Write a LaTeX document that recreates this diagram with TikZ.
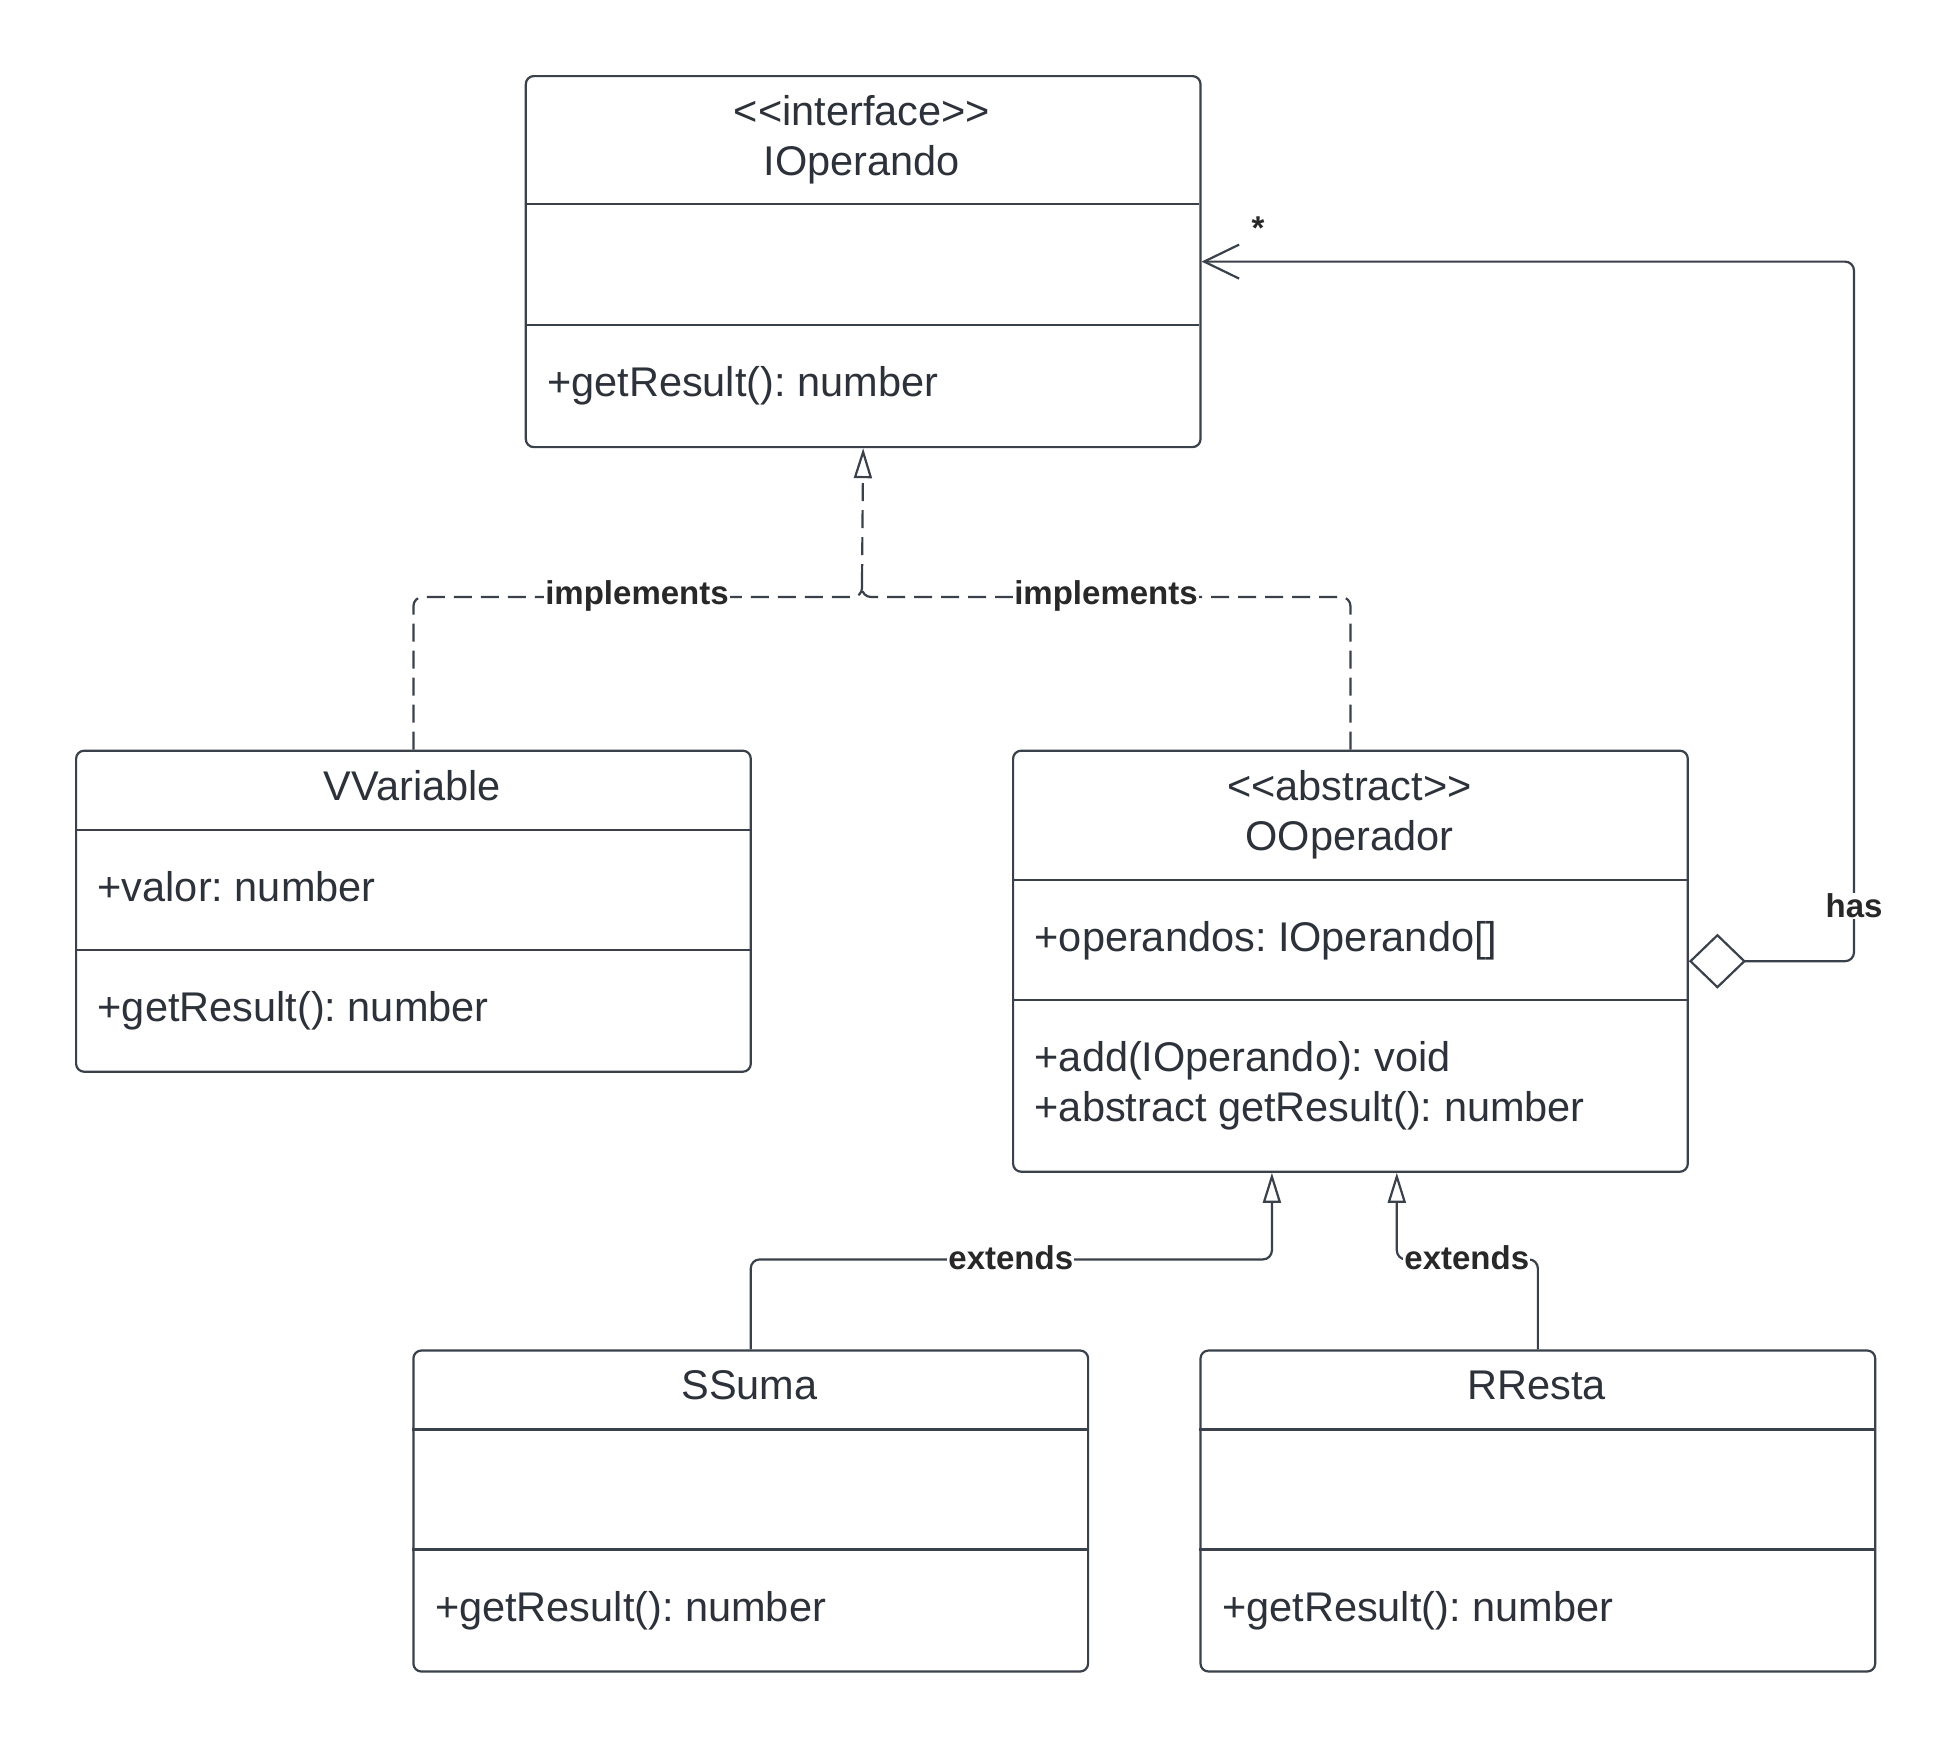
\documentclass[tikz,border=0pt]{standalone}
\usepackage{fontspec}
\setmainfont{Liberation Sans}
\frenchspacing
\usetikzlibrary{arrows.meta}
\definecolor{ln}{RGB}{58,65,74}
\definecolor{tx}{RGB}{45,50,58}
\definecolor{lb}{RGB}{40,40,40}

\begin{document}
\begin{tikzpicture}[x=1pt,y=-1pt,
  cls/.style={draw=ln, line width=2.2pt, rounded corners=8pt, minimum width=674.7pt,
              inner sep=0pt, anchor=north west},
  sep/.style={draw=ln, line width=2.2pt},
  ttl/.style={font=\fontsize{41.5}{50}\selectfont, text=tx, inner sep=0pt, anchor=base},
  mem/.style={font=\fontsize{41.5}{50}\selectfont, text=tx, inner sep=0pt, anchor=base west},
  lbl/.style={font=\bfseries\fontsize{33}{40}\selectfont, text=lb, fill=white, inner sep=1pt},
  conn/.style={draw=ln, line width=2.2pt, rounded corners=9pt},
  real/.style={conn, dash pattern=on 18pt off 9pt},
  hollow/.style={-{Triangle[open, length=30pt, width=18pt, fill=white]}},
]
\useasboundingbox (0,0) rectangle (1959,1746);
\fill[white] (0,0) rectangle (1959,1746);

% ---------- IOperando ----------
\node[cls, minimum height=371pt] (iop) at (524.7,75) {};
\draw[sep] (524.7,204) -- (1199.4,204);
\draw[sep] (524.7,325) -- (1199.4,325);
\node[ttl] (iopS) at (862,125) {<{}<interface>{}>};
\node[ttl] (iopN) at (862,175) {IOperando};
\node[mem] (iopM) at (547,396) {+getResult(): number};

% ---------- VVariable ----------
\node[cls, minimum height=321pt] (vv) at (75,749.6) {};
\draw[sep] (75,829.6) -- (749.7,829.6);
\draw[sep] (75,949.6) -- (749.7,949.6);
\node[ttl] (vvN) at (412.3,800) {VVariable};
\node[mem] (vvA) at (97.5,901) {+valor: number};
\node[mem] (vvM) at (97.5,1021) {+getResult(): number};

% ---------- OOperador ----------
\node[cls, minimum height=421pt] (op) at (1012,749.6) {};
\draw[sep] (1012,879.6) -- (1686.7,879.6);
\draw[sep] (1012,999.6) -- (1686.7,999.6);
\node[ttl] (opS) at (1349.4,800) {<{}<abstract>{}>};
\node[ttl] (opN) at (1349.4,850) {OOperador};
\node[mem] (opA) at (1034.5,951) {+operandos: IOperando[]};
\node[mem] (opM1) at (1034.5,1071) {+add(IOperando): void};
\node[mem] (opM2) at (1034.5,1121) {+abstract getResult(): number};

% ---------- SSuma ----------
\node[cls, minimum height=321pt] (ss) at (412.3,1349.4) {};
\draw[sep] (412.3,1429.4) -- (1087,1429.4);
\draw[sep] (412.3,1549.4) -- (1087,1549.4);
\node[ttl] (ssN) at (749.6,1399) {SSuma};
\node[mem] (ssM) at (434.8,1621) {+getResult(): number};

% ---------- RResta ----------
\node[cls, minimum height=321pt] (rr) at (1199.4,1349.4) {};
\draw[sep] (1199.4,1429.4) -- (1874.1,1429.4);
\draw[sep] (1199.4,1549.4) -- (1874.1,1549.4);
\node[ttl] (rrN) at (1536.8,1399) {RResta};
\node[mem] (rrM) at (1221.9,1621) {+getResult(): number};

% ---------- realizations ----------
\coordinate (jn) at (862,597);
\coordinate (jt) at (862,582);
\draw[real] (vv.north) |- (jn) -- (jt);
\draw[real] (op.north) |- (jn) -- (jt);
\draw[real, hollow] (jt) -- (iop.south);
\node[lbl] (impL) at (637,596) {implements};
\node[lbl] (impR) at (1106,596) {implements};

% ---------- generalizations ----------
\coordinate (ea) at (1271.9,1259.4);
\coordinate (eb) at (1396.8,1259.4);
\draw[conn, hollow] (ss.north) |- (ea) -- (ea |- op.south);
\draw[conn, hollow] (rr.north) |- (eb) -- (eb |- op.south);
\node[lbl] (extL) at (1010.8,1258) {extends};
\node[lbl] (extR) at (1466.8,1258) {extends};

% ---------- aggregation ----------
\coordinate (hx) at (1854,610);
\draw[conn, {Diamond[open, length=57pt, width=55pt, fill=white]}-{Straight Barb[length=35pt, width=34pt]}]
  (op.east) -| (hx) |- (iop.east);
\node[lbl] (hasL) at (1854,906) {has};
\node[lbl, fill=none] (mult) at (1258,228) {*};
\end{tikzpicture}
\end{document}
